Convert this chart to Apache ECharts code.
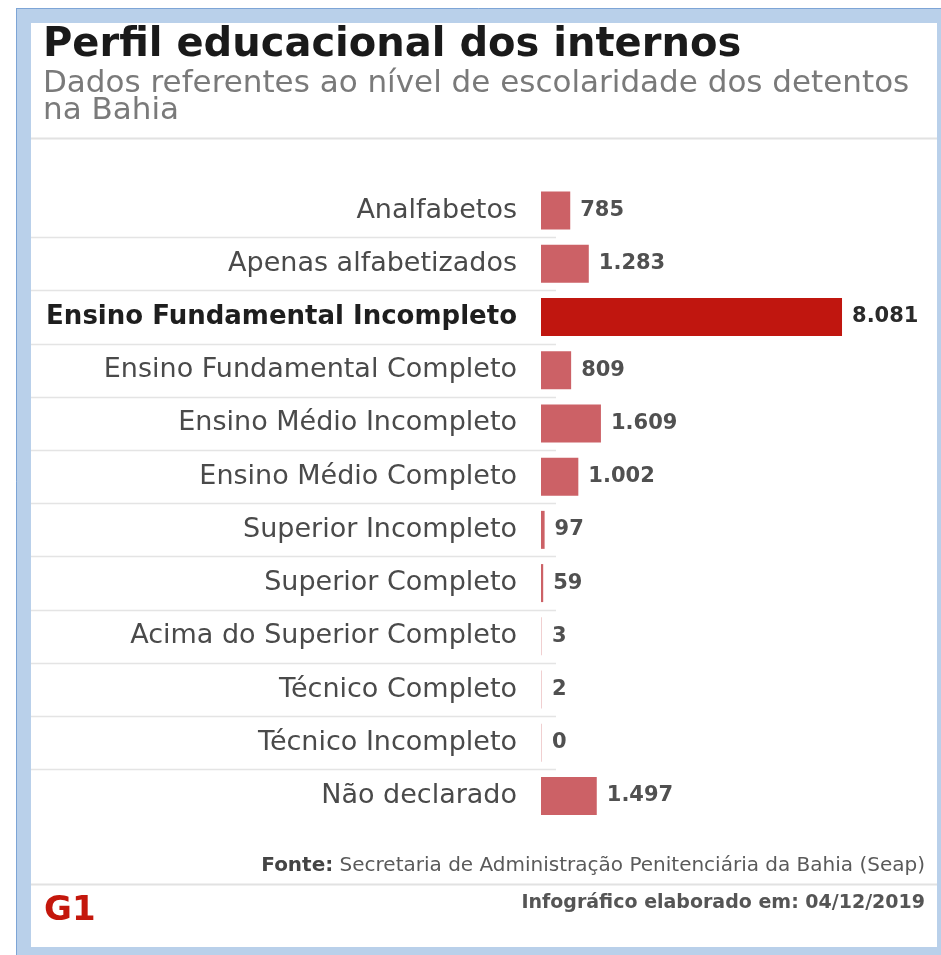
<!DOCTYPE html>
<html>
<head>
<meta charset="utf-8">
<script src="https://cdn.jsdelivr.net/npm/echarts@6/dist/echarts.min.js"></script>
<style>
  html, body { margin: 0; padding: 0; background: #fff; }
  #chart { width: 941px; height: 955px; }
</style>
</head>
<body>
<div id="chart"></div>
<script>
// categorias (de cima para baixo)
var categories = [
  'Analfabetos',
  'Apenas alfabetizados',
  'Ensino Fundamental Incompleto',
  'Ensino Fundamental Completo',
  'Ensino Médio Incompleto',
  'Ensino Médio Completo',
  'Superior Incompleto',
  'Superior Completo',
  'Acima do Superior Completo',
  'Técnico Completo',
  'Técnico Incompleto',
  'Não declarado'
];

// número de detentos
var values = [785, 1283, 8081, 809, 1609, 1002, 97, 59, 3, 2, 0, 1497];

var titleText = 'Perfil educacional dos internos';
var subtitleLines = ['Dados referentes ao nível de escolaridade dos detentos', 'na Bahia'];
var sourceText = 'Secretaria de Administração Penitenciária da Bahia (Seap)';
var dateText = 'Infográfico elaborado em: 04/12/2019';

var FONT = '"DejaVu Sans"';

// 1283 -> "1.283"
function fmt(v) {
  return String(v).replace(/\B(?=(\d{3})+(?!\d))/g, '.');
}

var maxVal = Math.max.apply(null, values);
var maxCat = categories[values.indexOf(maxVal)];

var chart = echarts.init(document.getElementById('chart'));

var option = {
  backgroundColor: '#fff',
  animation: false,
  grid: { left: 541, right: 27.5, top: 183.9, bottom: 132.4, containLabel: false },
  xAxis: { type: 'value', min: 0, max: 10000, show: false },
  yAxis: {
    type: 'category',
    inverse: true,
    data: categories,
    axisLine: { show: false },
    axisTick: { show: false },
    splitLine: { show: false },
    axisLabel: {
      margin: 24,
      fontFamily: 'DejaVu Sans',
      fontSize: 27,
      color: '#4a4a4a',
      formatter: function (v) {
        return v === maxCat ? '{b|' + v + '}' : v;
      },
      rich: {
        b: { fontFamily: 'DejaVu Sans', fontSize: 26, fontWeight: 'bold', color: '#1e1e1e' }
      }
    }
  },
  series: [{
    type: 'bar',
    data: values,
    barWidth: 38,
    barMinHeight: 1,
    z: 5,
    itemStyle: {
      color: function (p) {
        if (p.value === maxVal) return '#c0160f';
        if (p.value < 20) return 'rgba(204,96,101,0.3)';
        return '#cc6166';
      }
    },
    label: {
      show: true,
      position: 'right',
      distance: 10,
      fontFamily: 'DejaVu Sans',
      fontSize: 21,
      fontWeight: 'bold',
      color: '#505050',
      formatter: function (p) {
        return p.value === maxVal ? '{m|' + fmt(p.value) + '}' : fmt(p.value);
      },
      rich: {
        m: { fontFamily: 'DejaVu Sans', fontSize: 21, fontWeight: 'bold', color: '#2a2a2a' }
      }
    }
  }]
};

chart.setOption(option);

// moldura, textos e linhas separadoras
var g = [
  { type: 'rect', id: 'frame', z: -3, shape: { x: 16, y: 8, width: 925, height: 947 }, style: { fill: '#b9d0ea' } },
  { type: 'line', id: 'frameL', z: -2, shape: { x1: 16.5, y1: 8, x2: 16.5, y2: 955 }, style: { stroke: '#7ea5d6', lineWidth: 1 } },
  { type: 'line', id: 'frameT', z: -2, shape: { x1: 16, y1: 8.5, x2: 941, y2: 8.5 }, style: { stroke: '#7ea5d6', lineWidth: 1 } },
  { type: 'rect', id: 'card', z: -1, shape: { x: 31, y: 23, width: 906, height: 924 }, style: { fill: '#fff' } },
  { type: 'line', id: 'headSep', z: 0, shape: { x1: 31, y1: 138.5, x2: 937, y2: 138.5 }, style: { stroke: '#e2e2e2', lineWidth: 2 } },
  { type: 'line', id: 'footSep', z: 0, shape: { x1: 31, y1: 884.5, x2: 937, y2: 884.5 }, style: { stroke: '#e2e2e2', lineWidth: 2 } },
  { type: 'text', id: 'title', z: 1, style: { text: titleText, x: 43, y: 46, font: 'bold 40px ' + FONT, fill: '#1a1a1a', align: 'left', verticalAlign: 'middle' } },
  { type: 'text', id: 'sub1', z: 1, style: { text: subtitleLines[0], x: 43, y: 84, font: '31px ' + FONT, fill: '#7a7a7a', align: 'left', verticalAlign: 'middle' } },
  { type: 'text', id: 'sub2', z: 1, style: { text: subtitleLines[1], x: 43, y: 111, font: '31px ' + FONT, fill: '#7a7a7a', align: 'left', verticalAlign: 'middle' } },
  { type: 'text', id: 'fonte', z: 1, style: {
      text: '{b|Fonte:} ' + sourceText, x: 925, y: 866, font: '20px ' + FONT, fill: '#5a5a5a', align: 'right', verticalAlign: 'middle',
      rich: { b: { fontFamily: 'DejaVu Sans', fontSize: 20, fontWeight: 'bold', fill: '#444' } }
  } },
  { type: 'text', id: 'date', z: 1, style: { text: dateText, x: 925, y: 903, font: 'bold 19px ' + FONT, fill: '#555', align: 'right', verticalAlign: 'middle' } },
  { type: 'text', id: 'logo', z: 1, style: { text: 'G1', x: 44, y: 911, font: 'bold 34px ' + FONT, fill: '#c4170c', align: 'left', verticalAlign: 'middle' } }
];

for (var i = 0; i < categories.length - 1; i++) {
  var y0 = chart.convertToPixel({ yAxisIndex: 0 }, categories[i]);
  var y1 = chart.convertToPixel({ yAxisIndex: 0 }, categories[i + 1]);
  var y = Math.round((y0 + y1) / 2) + 0.5;
  g.push({ type: 'line', id: 'sep' + i, z: 0, shape: { x1: 31, y1: y, x2: 556, y2: y }, style: { stroke: '#e4e4e4', lineWidth: 1.5 } });
}

chart.setOption({ graphic: g });

window.addEventListener('resize', function () {
  chart.resize();
});
</script>
</body>
</html>
